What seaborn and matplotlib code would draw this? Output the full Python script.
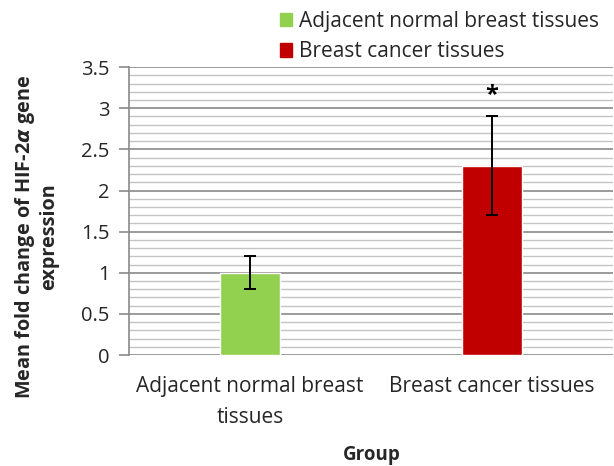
import matplotlib
matplotlib.use("Agg")
import matplotlib.pyplot as plt
from matplotlib.ticker import MultipleLocator
import seaborn as sns
import pandas as pd

# Mean fold change of HIF-2α expression per tissue group
groups = ["Adjacent normal breast tissues", "Breast cancer tissues"]
tick_labels = ["Adjacent normal breast\ntissues", "Breast cancer tissues"]
means = [1.0, 2.3]
errors = [0.2, 0.6]
colors = ["#92D050", "#C00000"]

df = pd.DataFrame({"group": groups, "mean": means})

sns.set_theme(style="white")
plt.rcParams["font.family"] = ["Open Sans", "DejaVu Sans"]

fig = plt.figure(figsize=(6.14, 4.66), dpi=100)
ax = fig.add_axes([0.210, 0.238, 0.788, 0.618])

sns.barplot(data=df, x="group", y="mean", hue="group", palette=colors,
            dodge=False, width=0.25, errorbar=None, legend=False, ax=ax,
            saturation=1)

ax.errorbar(range(len(groups)), means, yerr=errors, fmt="none",
            ecolor="black", elinewidth=1.4, capsize=4, capthick=1.4, zorder=5)

# significance marker above cancer group
ax.text(1, means[1] + errors[1] + 0.26, "*", ha="center", va="center",
        fontsize=17, fontweight="bold", color="black")

ax.set_ylim(0, 3.5)
ax.set_xlim(-0.5, 1.5)
ax.yaxis.set_minor_locator(MultipleLocator(0.1))
ax.set_yticks([0, 0.5, 1, 1.5, 2, 2.5, 3, 3.5])
ax.set_yticklabels(["0", "0.5", "1", "1.5", "2", "2.5", "3", "3.5"])
ax.grid(which="minor", axis="y", color="#c4c4c4", linewidth=1.0)
ax.grid(which="major", axis="y", color="#8a8a8a", linewidth=1.2)
ax.set_axisbelow(True)

ax.tick_params(axis="y", which="major", direction="out", length=7,
               width=1.2, color="#8a8a8a", labelsize=14.5, pad=7,
               left=True)
ax.tick_params(axis="y", which="minor", length=0)
ax.tick_params(axis="x", length=0, labelsize=15, pad=15)
ax.set_xticks(range(len(groups)))
ax.set_xticklabels(tick_labels, linespacing=1.6)

for side in ["top", "right", "bottom"]:
    ax.spines[side].set_visible(False)
ax.spines["left"].set_color("#8a8a8a")
ax.spines["left"].set_linewidth(1.2)

ax.set_xlabel("")
fig.text(0.605, 0.024, "Group", ha="center", va="center",
         fontsize=13.5, fontweight="bold")
ax.set_ylabel("Mean fold change of HIF-2$\\boldsymbol{\\alpha}$ gene\nexpression",
              fontsize=14.3, fontweight="bold", linespacing=1.12)
ax.yaxis.set_label_coords(-0.145, 0.41)

handles = [plt.Rectangle((0, 0), 1, 1, color=c) for c in colors]
fig.legend(handles, groups, loc="upper left", bbox_to_anchor=(0.432, 1.008),
           frameon=False, fontsize=15, handlelength=0.6, handleheight=0.6,
           handletextpad=0.3, labelspacing=0.45, borderpad=0.2)

fig.savefig("out.png", dpi=100)
